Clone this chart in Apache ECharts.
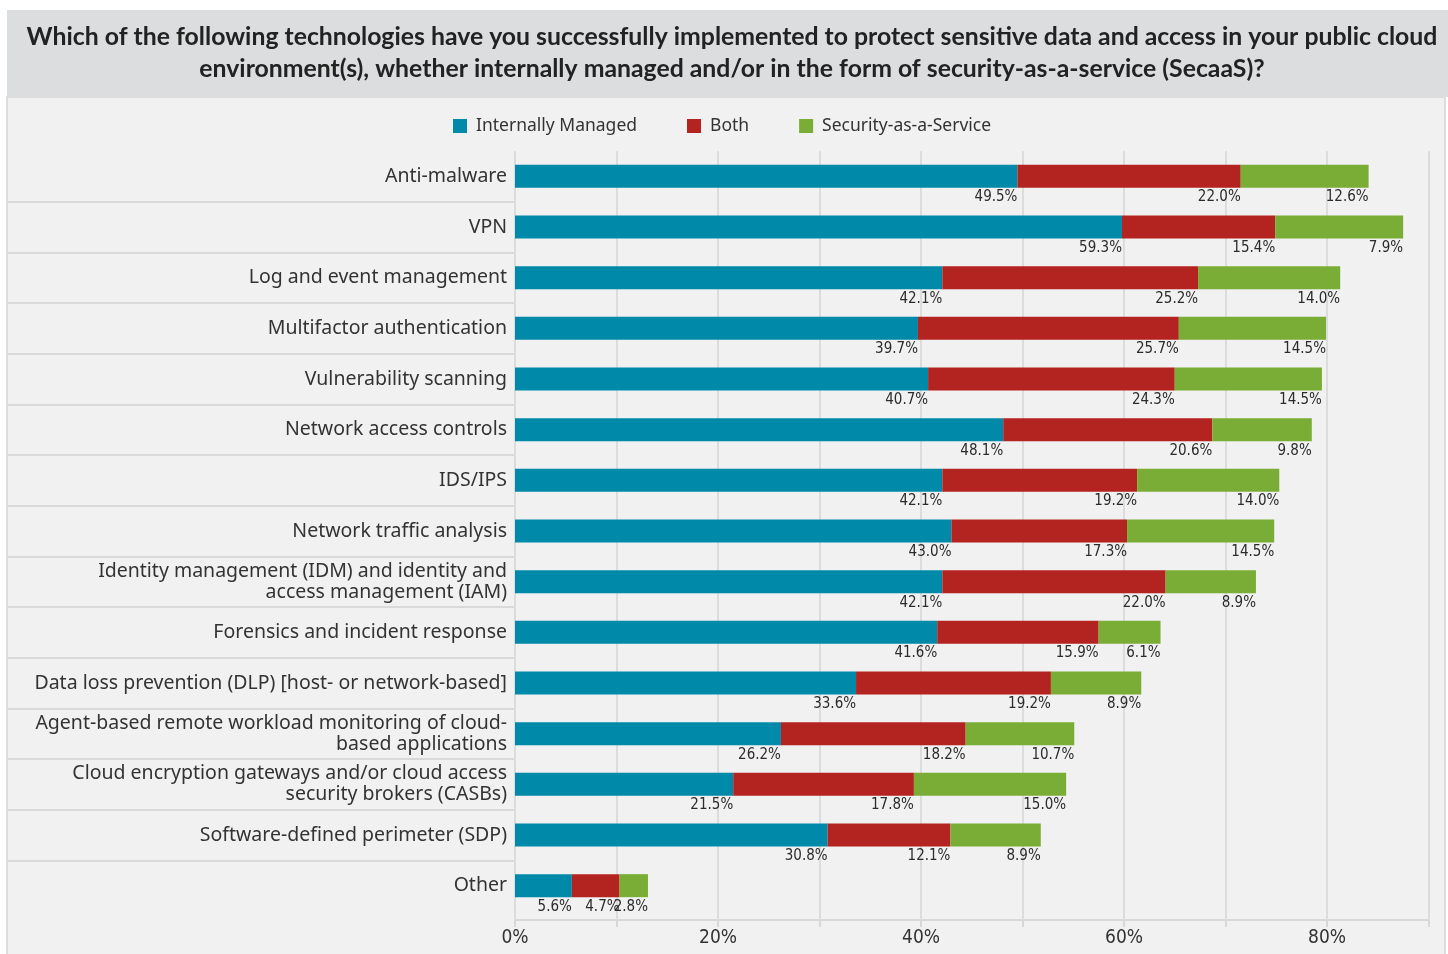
<!DOCTYPE html>
<html>
<head>
<meta charset="utf-8">
<script src="https://cdn.jsdelivr.net/npm/echarts@6/dist/echarts.min.js"></script>
<style>html,body{margin:0;padding:0;background:#fff;}#c{width:1448px;height:954px;}</style>
</head>
<body>
<div id="c"></div>
<script>
const categories = [
  'Anti-malware',
  'VPN',
  'Log and event management',
  'Multifactor authentication',
  'Vulnerability scanning',
  'Network access controls',
  'IDS/IPS',
  'Network traffic analysis',
  'Identity management (IDM) and identity and\naccess management (IAM)',
  'Forensics and incident response',
  'Data loss prevention (DLP) [host- or network-based]',
  'Agent-based remote workload monitoring of cloud-\nbased applications',
  'Cloud encryption gateways and/or cloud access\nsecurity brokers (CASBs)',
  'Software-defined perimeter (SDP)',
  'Other'
];
// bar lengths as drawn in the picture
const internallyManaged = [49.5, 59.8, 42.1, 39.7, 40.7, 48.1, 42.1, 43.0, 42.1, 41.6, 33.6, 26.2, 21.5, 30.8, 5.6];
const both = [22.0, 15.1, 25.2, 25.7, 24.3, 20.6, 19.2, 17.3, 22.0, 15.9, 19.2, 18.2, 17.8, 12.1, 4.7];
const secaas = [12.6, 12.6, 14.0, 14.5, 14.5, 9.8, 14.0, 14.5, 8.9, 6.1, 8.9, 10.7, 15.0, 8.9, 2.8];
// labels as printed in the picture
const internallyLabels = [49.5, 59.3, 42.1, 39.7, 40.7, 48.1, 42.1, 43.0, 42.1, 41.6, 33.6, 26.2, 21.5, 30.8, 5.6];
const bothLabels = [22.0, 15.4, 25.2, 25.7, 24.3, 20.6, 19.2, 17.3, 22.0, 15.9, 19.2, 18.2, 17.8, 12.1, 4.7];
const secaasLabels = [12.6, 7.9, 14.0, 14.5, 14.5, 9.8, 14.0, 14.5, 8.9, 6.1, 8.9, 10.7, 15.0, 8.9, 2.8];
const seriesNames = ['Internally Managed', 'Both', 'Security-as-a-Service'];
const xTickLabels = ['0%', '20%', '40%', '60%', '80%'];

const titleText = 'Which of the following technologies have you successfully implemented to protect sensitive data and access in your public cloud\nenvironment(s), whether internally managed and/or in the form of security-as-a-service (SecaaS)?';

const colors = ['#0089a9', '#b3231f', '#7aad36'];
const condensed = "'DejaVu Sans Condensed', sans-serif";

const chart = echarts.init(document.getElementById('c'), null, {renderer: 'canvas'});

function mkSeries(name, data, labels, color) {
  return {
    name: name,
    type: 'bar',
    stack: 'total',
    xAxisIndex: 0,
    yAxisIndex: 0,
    barWidth: 23,
    data: data,
    itemStyle: {color: color},
    label: {
      show: true,
      position: ['100%', '100%'],
      align: 'right',
      verticalAlign: 'top',
      offset: [0, 2],
      fontFamily: condensed,
      fontSize: 15,
      color: '#2b2b2b',
      formatter: p => labels[p.dataIndex].toFixed(1) + '%'
    }
  };
}

chart.setOption({
  backgroundColor: '#ffffff',
  animation: false,
  graphic: [
    {type: 'rect', z: -100, shape: {x: 7, y: 10, width: 1441, height: 87}, style: {fill: '#dcdddf'}},
    {type: 'rect', z: -100, shape: {x: 7, y: 97, width: 1438, height: 862}, style: {fill: '#f1f1f1', stroke: '#dddddd', lineWidth: 2}}
  ],
  title: {
    text: titleText,
    left: 727,
    top: 16,
    textAlign: 'center',
    textStyle: {
      fontFamily: 'Lato',
      fontWeight: 'bold',
      fontSize: 24.8,
      lineHeight: 32,
      color: '#222222'
    }
  },
  legend: {
    data: seriesNames,
    left: 448,
    top: 112,
    itemWidth: 14,
    itemHeight: 14,
    itemGap: 50,
    icon: 'rect',
    textStyle: {fontFamily: 'Noto Sans', fontSize: 17.5, color: '#333333', padding: [0, 0, 0, 4]}
  },
  grid: [
    {left: 515, right: 19.5, top: 151, bottom: 43, containLabel: false},
    {left: 7, width: 508, top: 151, bottom: 43, containLabel: false}
  ],
  xAxis: [
    {
      type: 'value', gridIndex: 0, min: 0, max: 90, interval: 10, offset: 9,
      axisLine: {show: true, lineStyle: {color: '#d8d8d8', width: 2}},
      axisTick: {show: true, length: 7, lineStyle: {color: '#d8d8d8', width: 2}},
      axisLabel: {
        fontFamily: condensed, fontSize: 19, color: '#333333', margin: 9,
        formatter: v => (v % 20 === 0 && v / 20 < xTickLabels.length) ? xTickLabels[v / 20] : ''
      },
      splitLine: {show: true, lineStyle: {color: '#dcdcdc', width: 2}}
    },
    {
      type: 'value', gridIndex: 0, min: 0, max: 90, interval: 10, offset: 9, position: 'bottom',
      axisLine: {show: false},
      axisTick: {show: true, inside: true, length: 9, lineStyle: {color: '#dcdcdc', width: 2}},
      axisLabel: {show: false},
      splitLine: {show: false}
    },
    {
      type: 'value', gridIndex: 1, min: 0, max: 1, show: false
    }
  ],
  yAxis: [
    {
      type: 'category', gridIndex: 0, data: categories, inverse: true,
      axisLine: {show: false},
      axisTick: {show: false},
      axisLabel: {fontFamily: 'Noto Sans', fontSize: 19.5, color: '#333333', margin: 8, lineHeight: 21, align: 'right'}
    },
    {
      type: 'value', gridIndex: 1, min: 0, max: 15, interval: 1,
      axisLine: {show: false}, axisTick: {show: false}, axisLabel: {show: false},
      splitLine: {show: true, showMinLine: false, showMaxLine: false, lineStyle: {color: '#d9d9d9', width: 2}}
    }
  ],
  series: [
    mkSeries(seriesNames[0], internallyManaged, internallyLabels, colors[0]),
    mkSeries(seriesNames[1], both, bothLabels, colors[1]),
    mkSeries(seriesNames[2], secaas, secaasLabels, colors[2])
  ]
});
</script>
</body>
</html>
